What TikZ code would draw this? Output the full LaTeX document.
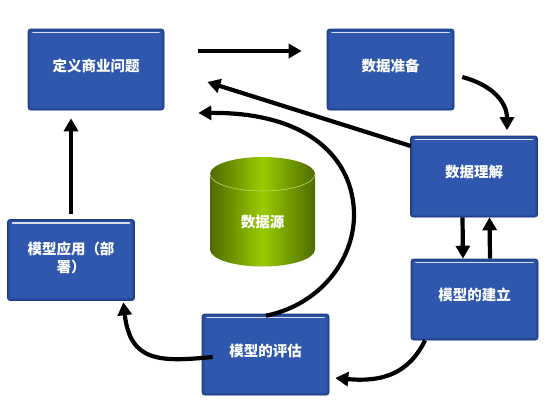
\documentclass[tikz,border=0pt]{standalone}
\usepackage{fontspec}
\newfontfamily\cjk{Noto Sans CJK SC}
\usepackage{xcolor}
\usetikzlibrary{arrows.meta,calc}
\definecolor{boxblue}{HTML}{2F57AE}
\definecolor{boxedge}{HTML}{1E3C80}
\definecolor{dbdark}{HTML}{4F6B00}
\definecolor{dbbright}{HTML}{99CC00}

\begin{document}
\begin{tikzpicture}[
    x=1pt, y=-1pt,
    font=\cjk\bfseries\fontsize{14.5}{17}\selectfont,
    stagebox/.style={rectangle, draw=boxedge, line width=0.6pt, fill=boxblue, rounded corners=2.5pt, text=white, align=center, minimum width=127pt, minimum height=81pt, inner sep=0pt,
        path picture={
            \draw[boxedge, opacity=0.3, line width=5pt] (path picture bounding box.north west) rectangle (path picture bounding box.south east);
            \draw[boxedge, opacity=0.4, line width=2.5pt] (path picture bounding box.north west) rectangle (path picture bounding box.south east);
            \draw[white!80!boxblue, line width=1.6pt, line cap=round] ($(path picture bounding box.north west)+(5,3.5)$) -- ($(path picture bounding box.north east)+(-5,3.5)$);
        }},
    flow/.style={-{Triangle[width=14pt,length=13pt]}, line width=4.2pt, black}
]
    \useasboundingbox (0,0) rectangle (555,408);

    \node (define) [stagebox, minimum width=136pt] at (96,69.5) {\raisebox{9pt}{定义商业问题}};
    \node (prepare) [stagebox] at (390.5,69.5) {\raisebox{9pt}{数据准备}};
    \node (understand) [stagebox] at (474,176.5) {\raisebox{10pt}{数据理解}};
    \node (build) [stagebox] at (474.5,299.5) {\raisebox{10pt}{模型的建立}};
    \node (evaluate) [stagebox] at (265.5,354.5) {\raisebox{9pt}{模型的评估}};
    \node (deploy) [stagebox] at (71,260) {\raisebox{-14pt}{\begin{tabular}{@{}c@{}}模型应用（部\\署）\end{tabular}}};

    % data source in the middle
    \shade[left color=dbdark, right color=dbdark, middle color=dbbright] (210,174) .. controls (210,164.6) and (233.5,157) .. (262.5,157) .. controls (291.5,157) and (315,164.6) .. (315,174) -- (315,249.5) .. controls (315,258.9) and (291.5,266.5) .. (262.5,266.5) .. controls (233.5,266.5) and (210,258.9) .. (210,249.5) -- cycle;
    \draw[white!45!dbbright, line width=0.5pt] (210,174) .. controls (210,183.4) and (233.5,191) .. (262.5,191) .. controls (291.5,191) and (315,183.4) .. (315,174);
    \node (source) [text=white] at (262.5,222) {数据源};

    \draw [flow, shorten <=34pt, shorten >=25pt] ([shift={(0,-18.5)}]define.east) -- ([shift={(0,-18.5)}]prepare.west);
    \draw [flow] ([shift={(8,7.5)}]prepare.east) .. controls +(30,8) and +(0,-28) .. ([shift={(33,-5.5)}]understand.north);
    \draw [flow] ([shift={(0.5,-30.5)}]understand.west) -- ([shift={(43,12.5)}]define.east);
    \draw [flow] ([shift={(0.5,2)}]evaluate.north) .. controls +(54,-11) and +(0,45) .. (354,215) .. controls +(0,-55) and +(112,-1) .. ([shift={(34,43.5)}]define.east);
    \draw [flow] ([shift={(-11.5,0)}]understand.south) -- ([shift={(-11.5,0)}]build.north);
    \draw [flow] ([shift={(15.5,0)}]build.north) -- ([shift={(15.5,0)}]understand.south);
    \draw [flow] ([shift={(-49.5,0)}]build.south) .. controls +(-17,35) and +(45,4) .. ([shift={(6,23.5)}]evaluate.east);
    \draw [flow] ([shift={(11,2.5)}]evaluate.west) .. controls +(-53,5) and +(7,60) .. ([shift={(-11.5,1.5)}]deploy.south east);
    \draw [flow] ([shift={(0,-5.5)}]deploy.north) -- ([shift={(-25,8)}]define.south);
\end{tikzpicture}
\end{document}
